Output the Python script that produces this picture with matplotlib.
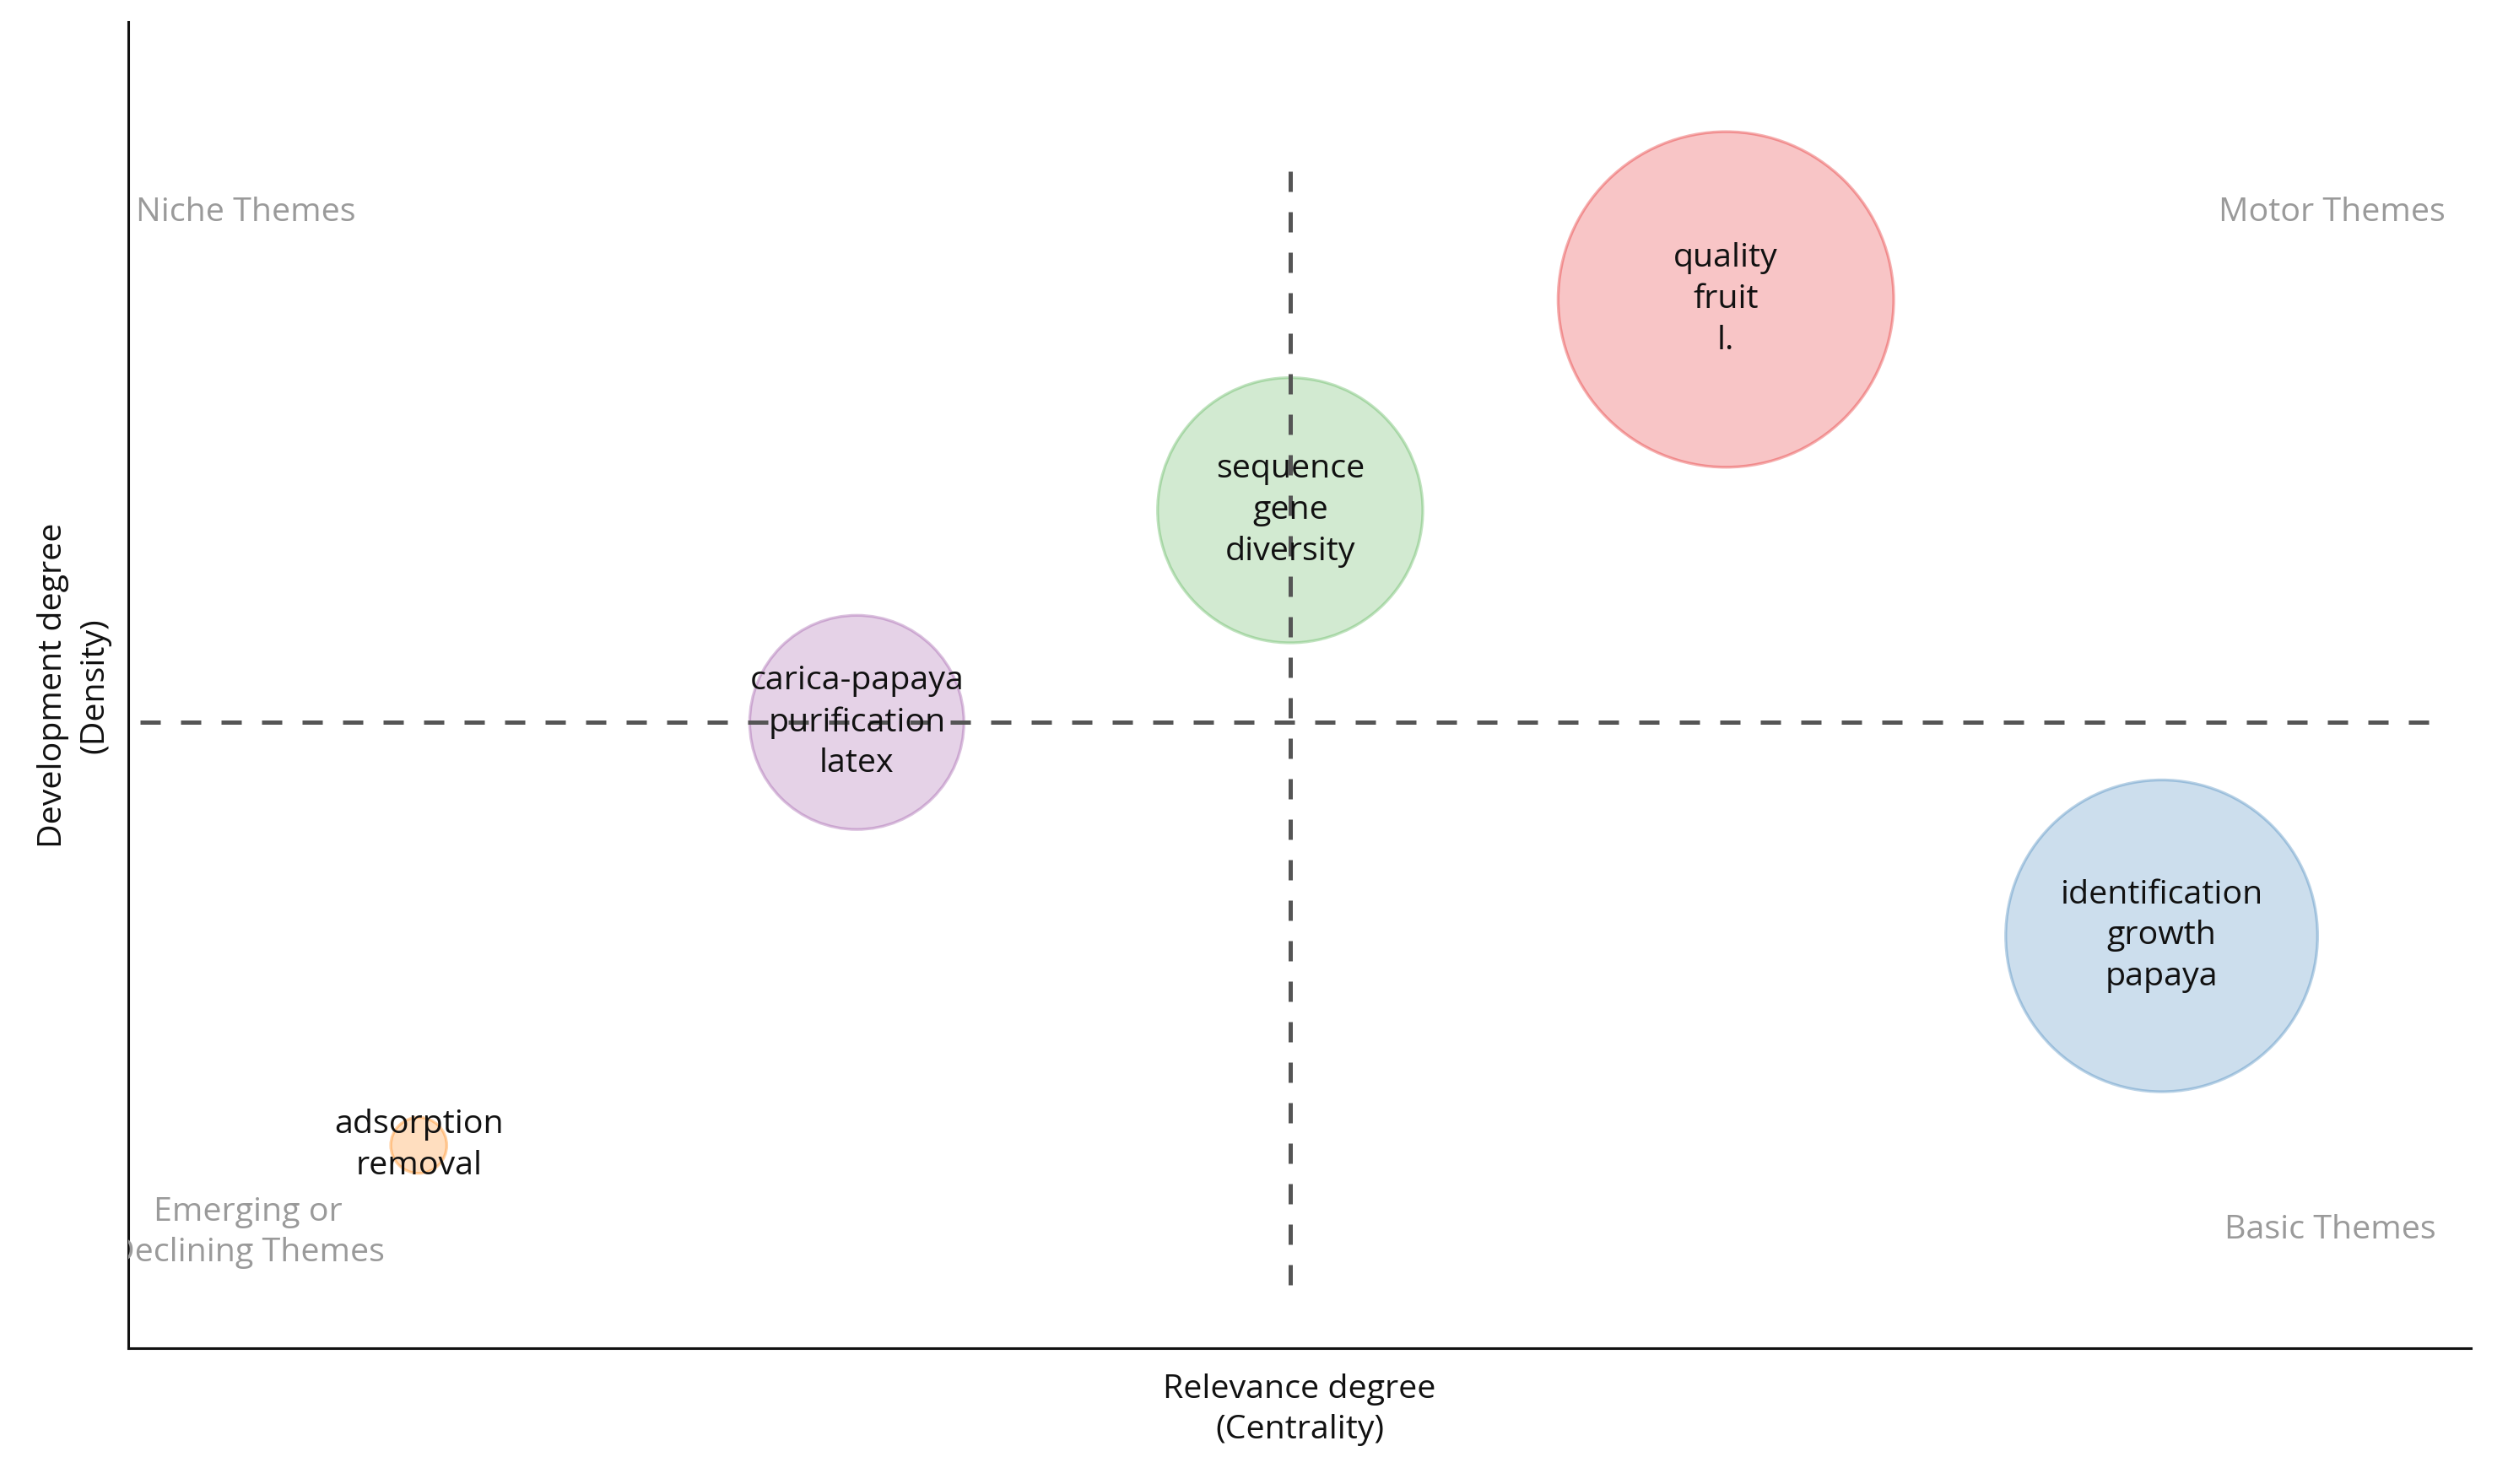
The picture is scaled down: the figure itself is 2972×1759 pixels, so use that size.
import matplotlib
matplotlib.use("Agg")
import matplotlib.pyplot as plt

plt.rcParams['font.family'] = ['Open Sans', 'DejaVu Sans']

# Theme clusters (centrality, density normalised to plot range)
themes = ["quality\nfruit\nl.",
          "sequence\ngene\ndiversity",
          "carica-papaya\npurification\nlatex",
          "identification\ngrowth\npapaya",
          "adsorption\nremoval"]
centrality = [0.682, 0.496, 0.311, 0.868, 0.124]
density = [0.791, 0.632, 0.472, 0.311, 0.153]
bubble_size = [20500, 12800, 8350, 17700, 570]
colors = ["#E41A1C", "#4DAF4A", "#984EA3", "#377EB8", "#FF7F00"]

mean_centrality = 0.496
mean_density = 0.472

quadrants = ["Niche Themes", "Motor Themes", "Emerging or\nDeclining Themes", "Basic Themes"]

fig = plt.figure(figsize=(2972 / 200, 1759 / 200), dpi=200)
ax = fig.add_axes([152 / 2972, 1 - 1598 / 1759, (2928 - 152) / 2972, (1598 - 26.5) / 1759])
ax.set_xlim(0, 1)
ax.set_ylim(0, 1)

for x, y, s, c in zip(centrality, density, bubble_size, colors):
    ax.scatter([x], [y], s=s, color=c, alpha=0.25, edgecolors='none', zorder=2)
    ax.scatter([x], [y], s=s, facecolors='none', edgecolors=c, alpha=0.35, linewidths=1.2, zorder=2)

ax.plot([mean_centrality, mean_centrality], [0.048, 0.896], color='#555555', lw=1.8,
        linestyle=(0, (4.8, 4.8)), zorder=3)
ax.plot([0.005, 0.982], [mean_density, mean_density], color='#555555', lw=1.8,
        linestyle=(0, (4.8, 4.8)), zorder=3)

LS = 1.37
for x, y, t in zip(centrality, density, themes):
    ax.text(x, y, t, ha='center', va='center', fontsize=14.2, color='#111111',
            linespacing=LS, zorder=4)

qc = '#9a9a9a'
ax.text(0.0034, 0.8565, quadrants[0], transform=ax.transAxes, ha='left', va='center',
        fontsize=14.2, color=qc)
ax.text(0.989, 0.8565, quadrants[1], transform=ax.transAxes, ha='right', va='center',
        fontsize=14.2, color=qc)
t_em = ax.text(0.051, 0.0872, quadrants[2], transform=ax.transAxes, ha='center', va='center',
               fontsize=14.2, color=qc, linespacing=LS, multialignment='center')
t_em.set_clip_box(ax.bbox)
t_em.set_clip_on(True)
ax.text(0.940, 0.0893, quadrants[3], transform=ax.transAxes, ha='center', va='center',
        fontsize=14.2, color=qc)

ax.text(0.5, -0.0465, "Relevance degree\n(Centrality)", transform=ax.transAxes,
        ha='center', va='center', fontsize=14.2, color='#111111', linespacing=LS)
ax.text(-0.0232, 0.5, "Development degree\n(Density)", transform=ax.transAxes,
        ha='center', va='center', fontsize=14.2, color='#111111', linespacing=LS,
        rotation=90)

for side in ['top', 'right']:
    ax.spines[side].set_visible(False)
for side in ['left', 'bottom']:
    ax.spines[side].set_linewidth(1.1)
    ax.spines[side].set_color('#111111')
ax.set_xticks([])
ax.set_yticks([])

fig.savefig("out.png", dpi=200)
